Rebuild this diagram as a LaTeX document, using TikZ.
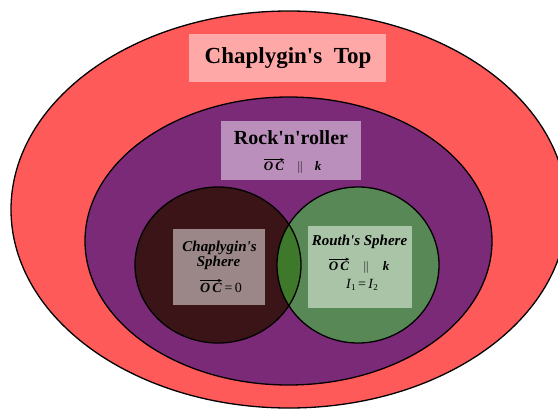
\documentclass[tikz,border=0pt]{standalone}
\usepackage{fontspec}
\setmainfont{Liberation Serif}
\usetikzlibrary{arrows.meta}
\definecolor{topred}{RGB}{255,90,90}
\definecolor{pinkbox}{RGB}{255,168,168}
\definecolor{rrpurple}{RGB}{123,42,120}
\definecolor{rrbox}{RGB}{187,143,187}
\definecolor{chapbrown}{RGB}{58,20,22}
\definecolor{chapbox}{RGB}{155,135,135}
\definecolor{routhgreen}{RGB}{88,136,85}
\definecolor{lensgreen}{RGB}{62,120,42}
\definecolor{routhbox}{RGB}{170,196,168}
\newcommand{\apos}{\textquotesingle}
\begin{document}
\begin{tikzpicture}[x=1pt,y=-1pt,
  outline/.style={draw=black,line width=1.3pt},
  labelbox/.style={draw=none,inner sep=0pt,anchor=north west},
  txt/.style={anchor=base,inner sep=0pt,text=black},
  ocarrow/.style={draw=black,line width=0.6pt,-{Stealth[length=4pt,width=3.2pt]}}]
\useasboundingbox (0,0) rectangle (558,408);
\fill[white] (0,0) rectangle (558,408);
% outer ellipse
\begin{scope}
\clip (0,0) rectangle (558,408);
\path[outline,fill=topred] (289,209.5) ellipse [x radius=278, y radius=198.5];
\end{scope}
% rock'n'roller ellipse
\path[outline,fill=rrpurple] (288.5,241) ellipse [x radius=203.5, y radius=144];
% circles
\fill[chapbrown] (218,265) ellipse [x radius=83, y radius=78];
\fill[routhgreen] (358,265) ellipse [x radius=81, y radius=78];
\begin{scope}
\clip (218,265) ellipse [x radius=83, y radius=78];
\fill[lensgreen] (358,265) ellipse [x radius=81, y radius=78];
\end{scope}
\draw[outline] (218,265) ellipse [x radius=83, y radius=78];
\draw[outline] (358,265) ellipse [x radius=81, y radius=78];
% boxes
\node[labelbox,fill=pinkbox,minimum width=197pt,minimum height=48pt] (topbox) at (189,34) {};
\node[labelbox,fill=rrbox,minimum width=140pt,minimum height=59pt] (rrboxnode) at (220.5,121) {};
\node[labelbox,fill=chapbox,minimum width=92.5pt,minimum height=76pt] (chapboxnode) at (172.5,229) {};
\node[labelbox,fill=routhbox,minimum width=104pt,minimum height=82pt] (routhboxnode) at (308,226) {};
% texts
\node[txt] (toptext) at (288,63) {\fontsize{23}{25}\selectfont\bfseries Chaplygin\apos s\ \ Top};
\node[txt] (rrtext) at (291,144) {\fontsize{20}{22}\selectfont\bfseries Rock\apos n\apos roller};
% Rock'n'roller condition
\node[txt] (rroc) at (274,170.5) {\fontsize{13}{15}\selectfont\bfseries\itshape O\,C};
\node[txt] (rrpar) at (300,170.5) {\fontsize{13}{15}\selectfont$\|$};
\node[txt] (rrk) at (318,170.5) {\fontsize{13}{15}\selectfont\bfseries\itshape k};
\draw[ocarrow] ([yshift=2pt]rroc.north west) -- ([yshift=2pt]rroc.north east);
% Chaplygin's sphere
\node[txt] (chap1) at (219.5,251) {\fontsize{15}{17}\selectfont\bfseries\itshape Chaplygin\apos s};
\node[txt] (chap2) at (218.5,266) {\fontsize{15}{17}\selectfont\bfseries\itshape Sphere};
\node[txt,anchor=base east] (chapoc) at (222,292) {\fontsize{14}{16}\selectfont\bfseries\itshape O\,C};
\node[txt,anchor=base west] (chapeq) at (chapoc.base east) {\fontsize{14}{16}\selectfont\,=\,0};
\draw[ocarrow] ([yshift=2pt]chapoc.north west) -- ([yshift=2pt]chapoc.north east);
% Routh's sphere
\node[txt] (routh1) at (359.5,245) {\fontsize{15}{17}\selectfont\bfseries\itshape Routh\apos s Sphere};
\node[txt] (routhoc) at (339,270) {\fontsize{13}{15}\selectfont\bfseries\itshape O\,C};
\node[txt] (routhpar) at (366,270) {\fontsize{13}{15}\selectfont$\|$};
\node[txt] (routhk) at (386,270) {\fontsize{13}{15}\selectfont\bfseries\itshape k};
\draw[ocarrow] ([yshift=2pt]routhoc.north west) -- ([yshift=2pt]routhoc.north east);
\node[txt] (routh3) at (362,288) {\fontsize{14}{16}\selectfont\textit{I}\raisebox{-2pt}{\fontsize{9}{10}\selectfont 1}\,=\,\textit{I}\raisebox{-2pt}{\fontsize{9}{10}\selectfont 2}};
\end{tikzpicture}
\end{document}
